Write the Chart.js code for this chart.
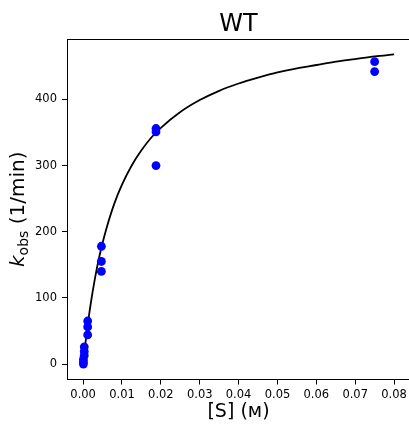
<!DOCTYPE html>
<html>
<head>
<meta charset="UTF-8">
<title>WT</title>
<script src="https://cdn.jsdelivr.net/npm/chart.js"></script>
<style>
    html, body { margin: 0; padding: 0; background: #fff; overflow: hidden; }
    #wrap { width: 420px; height: 424px; position: relative; }
</style>
</head>
<body>
<div id="wrap"><canvas id="grafico"></canvas></div>

<script>
    // pontos medidos (concentracao do substrato e kobs)
    const concentracoes = [0.0000732, 0.0000732, 0.0000732, 0.000293, 0.000293, 0.000293,
        0.00117, 0.00117, 0.00117, 0.0047, 0.0047, 0.0047,
        0.01875, 0.01875, 0.01875, 0.075, 0.075];
    const kobs = [0, 3, 7, 13, 19, 26,
        44, 56, 65, 140, 155, 178,
        300, 351, 356, 442, 457];

    // curva ajustada
    const curvaX = [0, 0.0005, 0.001, 0.0015, 0.002, 0.003, 0.004, 0.005, 0.006, 0.008,
        0.010, 0.0125, 0.015, 0.0175, 0.02, 0.025, 0.03, 0.035, 0.04, 0.045,
        0.05, 0.055, 0.06, 0.065, 0.07, 0.075, 0.08];
    const curvaY = [0, 27, 51, 73, 93, 128, 158, 183, 205, 242,
        271, 300, 323, 342, 357, 381, 399, 413, 424, 433,
        441, 447, 452, 457, 461, 465, 468];

    const ticksX = [0, 0.01, 0.02, 0.03, 0.04, 0.05, 0.06, 0.07, 0.08];
    const ticksY = [0, 100, 200, 300, 400];

    const fonte = "'DejaVu Sans', sans-serif";

    // desenha a moldura de cima e os titulos (com subscrito no eixo y)
    const textos = {
        id: 'textos',
        afterDraw(chart) {
            const ctx = chart.ctx;
            const a = chart.chartArea;
            ctx.save();
            ctx.strokeStyle = '#000';
            ctx.lineWidth = 1;
            ctx.beginPath();
            ctx.moveTo(a.left, a.top + 0.5);
            ctx.lineTo(a.right, a.top + 0.5);
            ctx.moveTo(a.right - 0.5, a.top);
            ctx.lineTo(a.right - 0.5, a.bottom);
            ctx.stroke();

            const cx = (a.left + a.right) / 2;
            ctx.fillStyle = '#000';
            ctx.textAlign = 'center';
            ctx.textBaseline = 'alphabetic';
            ctx.font = '24px ' + fonte;
            ctx.fillText('WT', cx, 31);

            ctx.font = '19px ' + fonte;
            ctx.textBaseline = 'middle';
            ctx.fillText('[S] (ᴍ)', cx, 412);

            // eixo y: k_obs (1/min)
            ctx.translate(17, (a.top + a.bottom) / 2);
            ctx.rotate(-Math.PI / 2);
            ctx.textAlign = 'left';
            ctx.textBaseline = 'alphabetic';
            const k = 'k', sub = 'obs', resto = ' (1/min)';
            ctx.font = 'italic 20px ' + fonte;
            const wk = ctx.measureText(k).width;
            ctx.font = '14px ' + fonte;
            const ws = ctx.measureText(sub).width;
            ctx.font = '20px ' + fonte;
            const wr = ctx.measureText(resto).width;
            let x = -(wk + ws + wr) / 2;
            const base = 7;
            ctx.font = 'italic 20px ' + fonte;
            ctx.fillText(k, x, base);
            x += wk;
            ctx.font = '14px ' + fonte;
            ctx.fillText(sub, x, base + 4);
            x += ws;
            ctx.font = '20px ' + fonte;
            ctx.fillText(resto, x, base);
            ctx.restore();
        }
    };

    const pontos = concentracoes.map((c, i) => ({ x: c, y: kobs[i] }));
    const curva = curvaX.map((c, i) => ({ x: c, y: curvaY[i] }));

    const config = {
        type: 'scatter',
        data: {
            datasets: [
                {
                    label: 'dados',
                    data: pontos,
                    backgroundColor: '#0000ff',
                    borderColor: '#0000ff',
                    pointRadius: 4.4,
                    borderWidth: 0,
                    order: 0
                },
                {
                    label: 'ajuste',
                    data: curva,
                    showLine: true,
                    borderColor: '#000',
                    borderWidth: 1.8,
                    pointRadius: 0,
                    cubicInterpolationMode: 'monotone',
                    order: 1
                }
            ]
        },
        options: {
            responsive: false,
            animation: false,
            devicePixelRatio: 1,
            layout: { padding: { top: 39, right: 10, left: 0, bottom: 0 } },
            plugins: { legend: { display: false }, tooltip: { enabled: false }, title: { display: false } },
            scales: {
                x: {
                    type: 'linear',
                    min: -0.00415,
                    max: 0.0841,
                    afterBuildTicks(s) { s.ticks = ticksX.map(v => ({ value: v })); },
                    afterFit(s) { s.height = 44.5; },
                    grid: { drawOnChartArea: false, drawTicks: true, tickLength: 5, tickColor: '#000' },
                    border: { display: true, color: '#000', width: 1 },
                    ticks: {
                        color: '#000',
                        padding: 4,
                        maxRotation: 0,
                        font: { family: fonte, size: 11.5 },
                        callback: v => v.toFixed(2)
                    }
                },
                y: {
                    type: 'linear',
                    min: -23.4,
                    max: 491.3,
                    afterBuildTicks(s) { s.ticks = ticksY.map(v => ({ value: v })); },
                    afterFit(s) { s.width = 67; },
                    grid: { drawOnChartArea: false, drawTicks: true, tickLength: 5, tickColor: '#000' },
                    border: { display: true, color: '#000', width: 1 },
                    ticks: {
                        color: '#000',
                        padding: 5,
                        font: { family: fonte, size: 11.5 },
                        callback: v => String(v)
                    }
                }
            }
        },
        plugins: [textos]
    };

    const cv = document.getElementById('grafico');
    cv.width = 420;
    cv.height = 424;
    new Chart(cv, config);
</script>
</body>
</html>
